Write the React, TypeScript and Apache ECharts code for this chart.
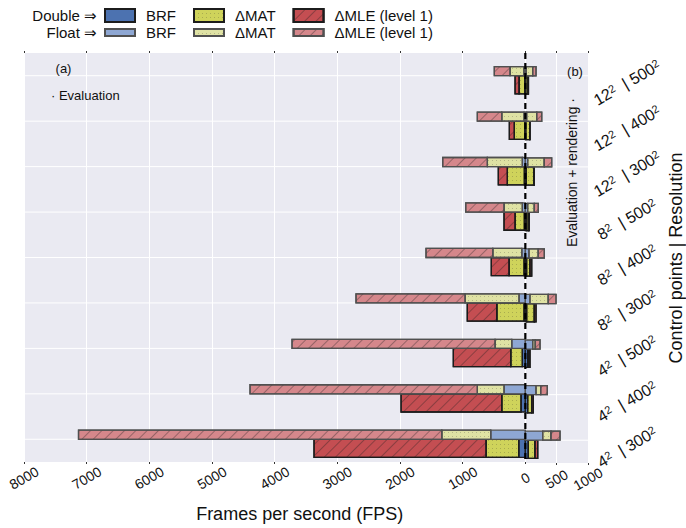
import React, { useEffect, useRef } from 'react';
import * as echarts from 'echarts';

// Categories: control points | resolution (bottom to top)
const categories = [
  '4²  | 300²', '4²  | 400²', '4²  | 500²',
  '8²  | 300²', '8²  | 400²', '8²  | 500²',
  '12²  | 300²', '12²  | 400²', '12²  | 500²',
];

// (a) Evaluation — FPS contributions, stacked outward from 0
const evalDoubleBRF = [105, 69, 48, 21, 21, 16, 16, 8, 10];
const evalDoubleMAT = [522, 308, 185, 435, 239, 148, 271, 168, 90];
const evalDoubleMLE = [2745, 1606, 916, 470, 283, 176, 144, 79, 64];
const evalFloatBRF = [552, 340, 217, 101, 57, 48, 48, 21, 24];
const evalFloatMAT = [782, 426, 266, 861, 463, 292, 558, 356, 220];
const evalFloatMLE = [5796, 3627, 3240, 1740, 1065, 611, 712, 389, 251];

// (b) Evaluation + rendering
const rendDoubleBRF = [48, 38, 38, 22, 21, 16, 16, 8, 8];
const rendDoubleMAT = [107, 64, 21, 122, 54, 32, 120, 62, 36];
const rendDoubleMLE = [43, 26, 16, 27, 27, 16, 8, 5, 6];
const rendFloatBRF = [278, 171, 118, 75, 59, 38, 38, 22, 16];
const rendFloatMAT = [132, 75, 42, 292, 148, 106, 265, 160, 102];
const rendFloatMLE = [144, 105, 75, 123, 96, 63, 118, 80, 53];

// Axis ranges / ticks
const evalAxisMax = 8000;
const evalAxisStep = 1000;
const rendAxisMax = 1000;
const rendAxisStep = 500;

const legendNames = ['BRF', 'ΔMAT', 'ΔMLE (level 1)'];

const FONT = 'Liberation Sans';

const hatch = {
  symbol: 'rect', symbolSize: 1, dashArrayX: [1, 0], dashArrayY: [1, 7],
  rotation: -Math.PI / 4, color: 'rgba(30,30,30,0.35)',
};
const dots = {
  symbol: 'rect', symbolSize: 1, dashArrayX: [1, 3], dashArrayY: [1, 3],
  rotation: 0, color: 'rgba(30,30,30,0.22)',
};

const styles = {
  double: [
    { fill: '#4C72B0', decal: null as any },
    { fill: '#CFD35B', decal: dots },
    { fill: '#C44E52', decal: hatch },
  ],
  float: [
    { fill: '#8EA7D3', decal: null as any },
    { fill: '#DFE2A4', decal: dots },
    { fill: '#D5878B', decal: hatch },
  ],
};

function stackSegments(parts: number[][]) {
  const out: number[][][] = parts.map(() => []);
  categories.forEach((_, i) => {
    let acc = 0;
    parts.forEach((p, k) => {
      out[k].push([i, acc, acc + p[i]]);
      acc += p[i];
    });
  });
  return out;
}

function buildSeries() {
  const series: any[] = [];
  const panels = [
    { xAxisIndex: 0, yAxisIndex: 0, double: [evalDoubleBRF, evalDoubleMAT, evalDoubleMLE], float: [evalFloatBRF, evalFloatMAT, evalFloatMLE] },
    { xAxisIndex: 2, yAxisIndex: 1, double: [rendDoubleBRF, rendDoubleMAT, rendDoubleMLE], float: [rendFloatBRF, rendFloatMAT, rendFloatMLE] },
  ];
  panels.forEach((panel, pi) => {
    // horizontal grid lines at category centres
    series.push({
      type: 'custom', name: 'grid' + pi, xAxisIndex: panel.xAxisIndex, yAxisIndex: panel.yAxisIndex,
      data: categories.map((_, i) => [i]), encode: { y: 0 }, z: 1, silent: true, clip: false,
      renderItem: (params: any, api: any) => {
        const cs = params.coordSys;
        const y = api.coord([0, api.value(0)])[1];
        return { type: 'line', shape: { x1: cs.x, y1: y, x2: cs.x + cs.width, y2: y }, style: { stroke: '#ffffff', lineWidth: 1 } };
      },
    });
    (['double', 'float'] as const).forEach((kind) => {
      const segs = stackSegments((panel as any)[kind]);
      const off = kind === 'float' ? [-0.2, 0] : [0, 0.4];
      const stroke = kind === 'float' ? '#505050' : '#1c1c1c';
      segs.forEach((data, k) => {
        const st = styles[kind][k];
        series.push({
          type: 'custom',
          name: kind === 'float' ? legendNames[k] + ' ' : legendNames[k],
          xAxisIndex: panel.xAxisIndex, yAxisIndex: panel.yAxisIndex,
          data, encode: { x: [1, 2], y: 0 }, z: kind === 'float' ? 3 : 2, clip: false,
          itemStyle: { color: st.fill, borderColor: stroke, borderWidth: 1, decal: st.decal || undefined },
          renderItem: (params: any, api: any) => {
            const cat = api.value(0);
            const a = api.coord([api.value(1), cat]);
            const b = api.coord([api.value(2), cat]);
            const band = api.size([0, 1])[1];
            const style: any = { fill: st.fill, stroke, lineWidth: 1.3 };
            if (st.decal) style.decal = st.decal;
            return {
              type: 'rect',
              shape: { x: Math.min(a[0], b[0]), y: a[1] + off[0] * band, width: Math.abs(b[0] - a[0]), height: (off[1] - off[0]) * band },
              style,
            };
          },
        });
      });
    });
  });
  // dashed zero line
  series.push({
    type: 'custom', name: 'zero', xAxisIndex: 2, yAxisIndex: 1, data: [[0]], encode: { x: 0 }, z: 5, silent: true, clip: false,
    renderItem: (params: any, api: any) => {
      const cs = params.coordSys;
      const x = api.coord([api.value(0), 0])[0];
      return { type: 'line', shape: { x1: x, y1: cs.y, x2: x, y2: cs.y + cs.height }, style: { stroke: '#000', lineWidth: 2.2, lineDash: [6, 4] } };
    },
  });
  return series;
}

const tick = { show: true, length: 2, lineStyle: { color: '#333', width: 1 } };
const plain = (v: number) => String(v);
const superscript = (v: string) => v.replace(/(\d+)²/g, '{n|$1}{s|2}');

function buildOption() {
  const gridTop = 53;
  const gridHeight = 410;
  const leftX = 24;
  const zeroX = 525.33;
  const rightX = 588;
  return {
    animation: false,
    textStyle: { fontFamily: FONT },
    grid: [
      { left: leftX, top: gridTop, width: zeroX - leftX, height: gridHeight, show: true, backgroundColor: '#EAEAF2', borderWidth: 0 },
      { left: zeroX, top: gridTop, width: rightX - zeroX, height: gridHeight, show: true, backgroundColor: '#EAEAF2', borderWidth: 0 },
    ],
    xAxis: [
      {
        type: 'value', gridIndex: 0, position: 'bottom', inverse: true, min: 0, max: evalAxisMax, interval: evalAxisStep,
        axisLine: { show: false }, axisTick: tick,
        splitLine: { show: true, lineStyle: { color: '#ffffff', width: 1 } },
        axisLabel: { rotate: 30, align: 'center', verticalAlign: 'middle', margin: 16, fontSize: 14, color: '#111', fontFamily: FONT, formatter: plain },
        name: 'Frames per second (FPS)', nameLocation: 'middle', nameGap: 43,
        nameTextStyle: { fontSize: 18, color: '#111', fontFamily: FONT, padding: [0, 0, 0, 50] },
      },
      {
        type: 'value', gridIndex: 0, position: 'top', inverse: true, min: 0, max: evalAxisMax, interval: evalAxisStep,
        axisLine: { show: false }, axisTick: tick, splitLine: { show: false }, axisLabel: { show: false },
      },
      {
        type: 'value', gridIndex: 1, position: 'bottom', min: 0, max: rendAxisMax, interval: rendAxisStep,
        axisLine: { show: false }, axisTick: tick,
        splitLine: { show: true, lineStyle: { color: '#ffffff', width: 1 } },
        axisLabel: { rotate: 30, align: 'center', verticalAlign: 'middle', margin: 16, fontSize: 14, color: '#111', fontFamily: FONT, showMinLabel: false, formatter: plain },
      },
      {
        type: 'value', gridIndex: 1, position: 'top', min: 0, max: rendAxisMax, interval: rendAxisStep,
        axisLine: { show: false }, axisTick: tick, splitLine: { show: false }, axisLabel: { show: false },
      },
    ],
    yAxis: [
      {
        type: 'category', gridIndex: 0, data: categories, position: 'left',
        axisLine: { show: false }, axisTick: { ...tick, alignWithLabel: true }, axisLabel: { show: false }, splitLine: { show: false },
      },
      {
        type: 'category', gridIndex: 1, data: categories, position: 'right',
        axisLine: { show: false }, axisTick: { ...tick, alignWithLabel: true }, splitLine: { show: false },
        axisLabel: {
          rotate: 30, align: 'center', verticalAlign: 'top', margin: 35, fontSize: 16, color: '#111', fontFamily: FONT,
          formatter: superscript,
          rich: {
            n: { fontSize: 16, color: '#111', fontFamily: FONT },
            s: { fontSize: 11, color: '#111', fontFamily: FONT, verticalAlign: 'top' },
          },
        },
        name: 'Control points | Resolution', nameLocation: 'middle', nameGap: 79, nameRotate: 90,
        nameTextStyle: { fontSize: 18, color: '#111', fontFamily: FONT },
      },
    ],
    legend: [
      {
        left: 104, top: 8, padding: 0, itemWidth: 30, itemHeight: 13, itemGap: 17, icon: 'rect', selectedMode: false,
        data: legendNames,
        textStyle: { fontSize: 15, color: '#111', fontFamily: FONT, padding: [0, 0, 0, 6] },
      },
      {
        left: 104, top: 25, padding: 0, itemWidth: 30, itemHeight: 7, itemGap: 17, icon: 'rect', selectedMode: false,
        data: legendNames.map((n) => n + ' '),
        formatter: (n: string) => n.trim(),
        textStyle: { fontSize: 15, color: '#111', fontFamily: FONT, padding: [0, 0, 0, 6] },
      },
    ],
    graphic: [
      { type: 'text', x: 97, y: 15.5, style: { text: 'Double ⇒', align: 'right', verticalAlign: 'middle', fontSize: 15, fontFamily: FONT, fill: '#111' } },
      { type: 'text', x: 97, y: 32.5, style: { text: 'Float ⇒', align: 'right', verticalAlign: 'middle', fontSize: 15, fontFamily: FONT, fill: '#111' } },
      { type: 'text', x: 63.5, y: 68, z: 10, style: { text: '(a)', align: 'center', verticalAlign: 'middle', fontSize: 13, fontFamily: FONT, fill: '#111' } },
      { type: 'text', x: 51, y: 95, z: 10, style: { text: '· Evaluation', align: 'left', verticalAlign: 'middle', fontSize: 13, fontFamily: FONT, fill: '#111' } },
      { type: 'text', x: 575, y: 71, z: 10, style: { text: '(b)', align: 'center', verticalAlign: 'middle', fontSize: 13, fontFamily: FONT, fill: '#111' } },
      { type: 'text', x: 572, y: 98, z: 10, rotation: Math.PI / 2, style: { text: 'Evaluation + rendering ·', align: 'right', verticalAlign: 'middle', fontSize: 14, fontFamily: FONT, fill: '#111' } },
    ],
    series: buildSeries(),
  };
}

export default function App() {
  const ref = useRef<HTMLDivElement>(null);
  useEffect(() => {
    const chart = echarts.init(ref.current!, null, { renderer: 'svg' });
    chart.setOption(buildOption() as any);
    return () => chart.dispose();
  }, []);
  return <div ref={ref} style={{ position: 'fixed', left: 0, top: 0, width: 686, height: 528, background: '#fff' }} />;
}
